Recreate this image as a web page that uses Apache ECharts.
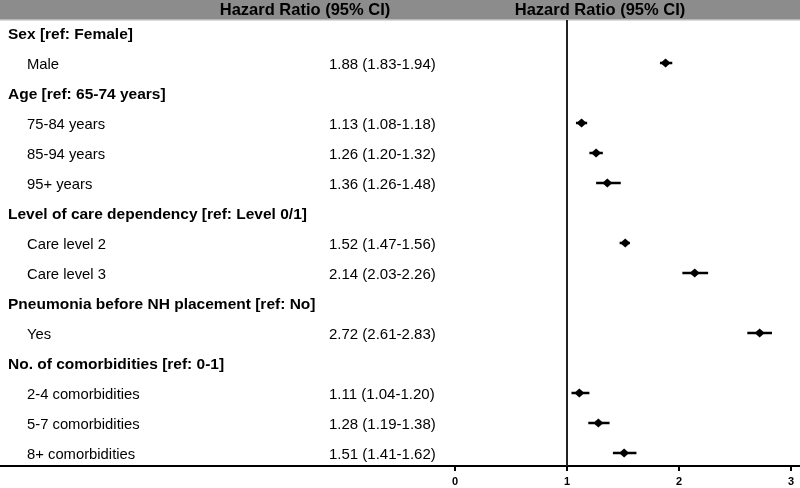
<!DOCTYPE html>
<html>
<head>
<meta charset="utf-8">
<script src="https://cdn.jsdelivr.net/npm/echarts@6/dist/echarts.min.js"></script>
<style>
  html, body { margin: 0; padding: 0; background: #fff; }
  #chart { width: 800px; height: 488px; }
</style>
</head>
<body>
<div id="chart"></div>
<script>
// rows of the forest plot, top to bottom
var rowLabels = [
    'Sex [ref: Female]', 'Male',
    'Age [ref: 65-74 years]', '75-84 years', '85-94 years', '95+ years',
    'Level of care dependency [ref: Level 0/1]', 'Care level 2', 'Care level 3',
    'Pneumonia before NH placement [ref: No]', 'Yes',
    'No. of comorbidities [ref: 0-1]', '2-4 comorbidities', '5-7 comorbidities', '8+ comorbidities'
];
var isGroup = [1, 0, 1, 0, 0, 0, 1, 0, 0, 1, 0, 1, 0, 0, 0];
var hr    = [null, 1.88, null, 1.13, 1.26, 1.36, null, 1.52, 2.14, null, 2.72, null, 1.11, 1.28, 1.51];
var lower = [null, 1.83, null, 1.08, 1.20, 1.26, null, 1.47, 2.03, null, 2.61, null, 1.04, 1.19, 1.41];
var upper = [null, 1.94, null, 1.18, 1.32, 1.48, null, 1.56, 2.26, null, 2.83, null, 1.20, 1.38, 1.62];
var xTicks = [0, 1, 2, 3];
var headerText = 'Hazard Ratio (95% CI)';

var chart = echarts.init(document.getElementById('chart'));

var font = 'Liberation Sans, Arial, sans-serif';

function fmt(v) { return v.toFixed(2); }

function renderRow(params, api) {
    var i = params.dataIndex;
    var y = api.coord([0, i])[1];
    var ty = y + 1.5; // text baseline nudge
    var kids = [];
    kids.push({
        type: 'text',
        style: {
            text: rowLabels[i],
            x: isGroup[i] ? 8 : 27,
            y: ty,
            verticalAlign: 'middle',
            font: isGroup[i] ? 'bold 15.5px ' + font : '14.8px ' + font,
            fill: '#000'
        }
    });
    if (hr[i] != null) {
        kids.push({
            type: 'text',
            style: {
                text: fmt(hr[i]) + ' (' + fmt(lower[i]) + '-' + fmt(upper[i]) + ')',
                x: 329,
                y: ty,
                verticalAlign: 'middle',
                font: '15px ' + font,
                fill: '#000'
            }
        });
        var lo = api.coord([lower[i], i]);
        var hi = api.coord([upper[i], i]);
        var c = api.coord([hr[i], i]);
        kids.push({
            type: 'line',
            shape: { x1: lo[0], y1: y, x2: hi[0], y2: y },
            style: { stroke: '#000', lineWidth: 2.5 }
        });
        kids.push({
            type: 'polygon',
            shape: { points: [[c[0] - 5, y], [c[0], y - 4.5], [c[0] + 5, y], [c[0], y + 4.5]] },
            style: { fill: '#000' }
        });
    }
    return { type: 'group', children: kids };
}

var rows = rowLabels.map(function (l, i) { return [0, i]; });

chart.setOption({
    animation: false,
    backgroundColor: '#fff',
    grid: { left: 0, right: 0, top: 20, bottom: 22 },
    xAxis: {
        type: 'value',
        min: -455 / 112,
        max: 345 / 112,
        splitLine: { show: false },
        axisLine: { show: true, onZero: false, lineStyle: { color: '#000', width: 2 } },
        axisTick: { show: true, customValues: xTicks, length: 5, lineStyle: { color: '#000', width: 2 } },
        axisLabel: {
            customValues: xTicks,
            color: '#000',
            fontWeight: 'bold',
            fontSize: 11,
            fontFamily: font,
            margin: 10
        }
    },
    yAxis: {
        type: 'value',
        inverse: true,
        min: -13 / 30,
        max: 433 / 30,
        show: false
    },
    graphic: [
        { type: 'rect', left: 0, top: 0, shape: { width: 800, height: 19 }, style: { fill: '#8c8c8c' } },
        { type: 'rect', left: 0, top: 19, shape: { width: 800, height: 1.5 }, style: { fill: '#b8b8b8' } },
        {
            type: 'text', x: 305, y: 10,
            style: { text: headerText, align: 'center', verticalAlign: 'middle', font: 'bold 16.5px ' + font, fill: '#000' }
        },
        {
            type: 'text', x: 600, y: 10,
            style: { text: headerText, align: 'center', verticalAlign: 'middle', font: 'bold 16.5px ' + font, fill: '#000' }
        }
    ],
    series: [{
        type: 'custom',
        clip: false,
        renderItem: renderRow,
        data: rows,
        markLine: {
            silent: true,
            symbol: 'none',
            label: { show: false },
            lineStyle: { color: '#222', width: 2, type: 'solid' },
            data: [{ xAxis: 1 }]
        }
    }]
});
</script>
</body>
</html>
